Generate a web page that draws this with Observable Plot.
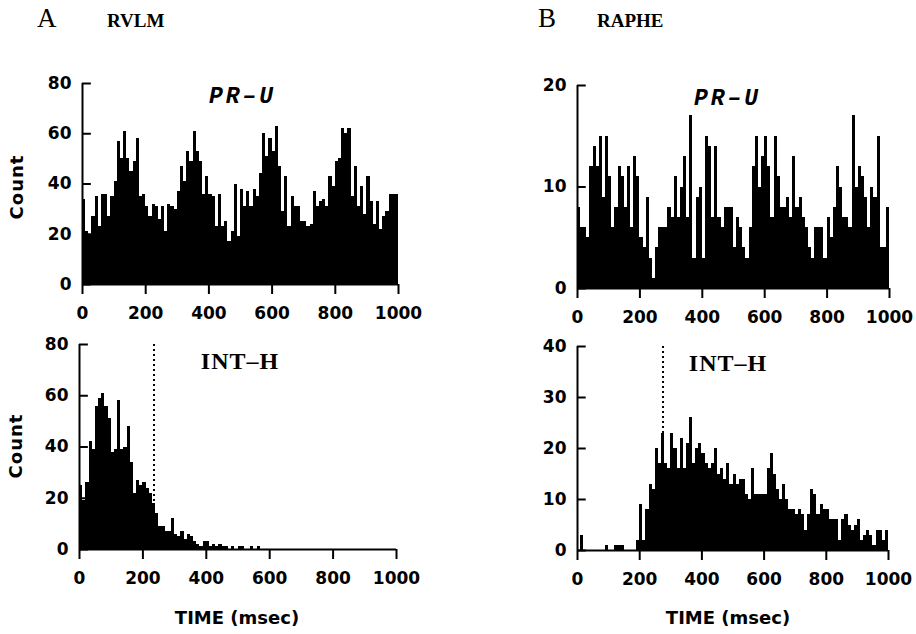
<!DOCTYPE html>
<html><head><meta charset="utf-8">
<script src="https://cdn.jsdelivr.net/npm/d3@7"></script>
<script src="https://cdn.jsdelivr.net/npm/@observablehq/plot@0.6"></script>
<style>
html,body{margin:0;padding:0;background:#fff;}
#root{position:relative;width:916px;height:634px;overflow:hidden;background:#fff;}
#root > svg, #root > figure{position:absolute;margin:0;}
</style></head><body><div id="root"></div>
<script>
// ---- data ----
const binWidth = 10; // msec per bin
const timeTicks = [0, 200, 400, 600, 800, 1000];

const rvlmPRU = [34,21,20,27,35,23,36,36,27,35, 41,57,50,61,50,45,49,58,35,36,
  31,27,32,31,26,31,21,32,31,30, 37,47,41,53,49,61,53,49,36,43,
  36,35,23,36,23,25,17,21,40,19, 38,31,37,31,38,35,44,60,51,58,
  53,63,47,29,43,23,35,31,31,25, 25,23,24,37,31,33,34,31,43,39,
  49,50,62,60,62,35,47,31,39,28, 43,33,24,33,22,27,29,36,36,36];

const rvlmINTH = [25,19,26,42,39,56,59,61,56,51, 38,39,58,39,40,48,34,22,27,25,
  26,24,22,18,14,9,9,7,7,12, 6,5,7,4,6,5,3,2,1,3,
  3,1,2,1,2,1,1,0,1,0, 1,1,0,0,1,0,1,0,0,0,
  0,0,0,0,0,0,0,0,0,0, 0,0,0,0,0,0,0,0,0,0,
  0,0,0,0,0,0,0,0,0,0, 0,0,0,0,0,0,0,0,0,0];

const raphePRU = [8,6,6,5,12,14,12,15,9,15, 11,6,8,12,11,8,12,6,13,11,
  5,4,9,3,1,4,6,6,6,8, 7,11,7,10,13,7,17,3,9,10,
  3,15,14,7,14,7,6,8,8,8, 4,7,6,4,3,6,12,15,10,13,
  15,12,7,15,11,8,8,9,7,13, 8,9,7,6,4,3,6,6,6,3,
  7,5,8,12,10,7,7,6,17,10, 12,11,9,6,10,9,15,4,4,8];

const rapheINTH = [0,3,0,0,0,0,0,0,0,1, 0,0,1,1,1,0,0,0,0,2,
  9,2,8,13,12,20,17,23,17,16, 23,20,16,22,16,21,26,17,20,21,
  19,17,16,17,20,15,16,14,17,13, 15,13,14,14,11,10,16,11,11,11,
  11,16,19,15,12,10,13,10,8,8, 7,8,7,4,7,12,11,7,9,8,
  8,6,6,6,2,6,7,5,4,5, 6,2,3,4,3,1,4,4,2,4];

const rvlmYTicks = [0, 20, 40, 60, 80];
const raphePRUYTicks = [0, 10, 20];
const rapheINTHYTicks = [0, 10, 20, 30, 40];
const rvlmOnset = 235;   // msec, dotted marker
const rapheOnset = 275;  // msec, dotted marker

// ---- drawing ----
const root = document.getElementById("root");
const tickFont = "'DejaVu Sans', sans-serif";
const innerTickLen = 28; // msec, length of the inward y ticks

function panel(cfg) {
  const {values, yTicks, title, titleFont, titleSize, titleStyle, titleSpacing, titleDx, titleDy,
         onset, left, top, width, height, frame} = cfg;
  const [fx0, fx1, fy0, fy1] = frame;
  const bins = values.map((v, i) => ({x1: i * binWidth, x2: (i + 1) * binWidth, y: v}));
  const marks = [];
  if (onset != null) marks.push(Plot.ruleX([onset], {stroke: "black", strokeWidth: 2, strokeDasharray: "2,3"}));
  marks.push(Plot.rectY(bins, {x1: "x1", x2: "x2", y: "y", fill: "black", shapeRendering: "crispEdges"}));
  marks.push(Plot.ruleX([0], {stroke: "black", strokeWidth: 2}));
  marks.push(Plot.ruleY([0], {stroke: "black", strokeWidth: 2}));
  marks.push(Plot.ruleY(yTicks, {y: d => d, x1: d => 0, x2: d => innerTickLen, stroke: "black", strokeWidth: 2}));
  marks.push(Plot.axisX({ticks: timeTicks, tickSize: 10, tickPadding: 12, strokeWidth: 2,
    tickFormat: d => String(d), label: null}));
  marks.push(Plot.axisY({ticks: yTicks, tickSize: 0, tickPadding: 11, tickFormat: d => String(d), label: null}));
  marks.push(Plot.text([title], {text: d => d, frameAnchor: "top", dx: titleDx, dy: titleDy,
    lineAnchor: "middle", fontFamily: titleFont, fontSize: titleSize, fontWeight: "bold",
    fontStyle: titleStyle, fill: "black"}));
  const svg = Plot.plot({
    width, height,
    marginLeft: fx0 - left, marginRight: left + width - fx1,
    marginTop: fy0 - top, marginBottom: top + height - fy1,
    x: {domain: [0, 1000]},
    y: {domain: [0, yTicks[yTicks.length - 1]]},
    style: {fontFamily: tickFont, fontSize: "17px", fontWeight: "bold", background: "transparent",
      overflow: "visible", color: "black"},
    marks
  });
  svg.style.left = left + "px";
  svg.style.top = top + "px";
  svg.querySelectorAll('g[aria-label="text"] text').forEach(t => {
    t.style.letterSpacing = titleSpacing + "px";
  });
  root.appendChild(svg);
}

const monoTitle = "'Liberation Mono', 'DejaVu Sans Mono', monospace";
const serifTitle = "'Liberation Serif', serif";
panel({values: rvlmPRU, yTicks: rvlmYTicks, title: "PR–U", titleFont: monoTitle, titleStyle: "italic",
  titleSize: 23, titleSpacing: 3, titleDx: 2, titleDy: 12, onset: null,
  left: 0, top: 50, width: 440, height: 275, frame: [82, 398, 83, 284]});
panel({values: raphePRU, yTicks: raphePRUYTicks, title: "PR–U", titleFont: monoTitle, titleStyle: "italic",
  titleSize: 23, titleSpacing: 3, titleDx: -6, titleDy: 12, onset: null,
  left: 470, top: 50, width: 446, height: 275, frame: [577, 889, 85, 288]});
panel({values: rvlmINTH, yTicks: rvlmYTicks, title: "INT–H", titleFont: serifTitle, titleStyle: "normal",
  titleSize: 24, titleSpacing: 1, titleDx: 2, titleDy: 17, onset: rvlmOnset,
  left: 0, top: 325, width: 440, height: 275, frame: [79, 396, 344, 549]});
panel({values: rapheINTH, yTicks: rapheINTHYTicks, title: "INT–H", titleFont: serifTitle, titleStyle: "normal",
  titleSize: 24, titleSpacing: 1, titleDx: -5, titleDy: 17, onset: rapheOnset,
  left: 470, top: 325, width: 446, height: 275, frame: [577, 888, 346, 550]});

// ---- text overlay ----
const ns = "http://www.w3.org/2000/svg";
const ov = document.createElementNS(ns, "svg");
ov.setAttribute("width", 916); ov.setAttribute("height", 634);
ov.style.left = "0px"; ov.style.top = "0px"; ov.style.pointerEvents = "none";
function txt(s, x, y, attrs) {
  const t = document.createElementNS(ns, "text");
  t.textContent = s;
  t.setAttribute("x", x); t.setAttribute("y", y);
  for (const k in attrs) t.setAttribute(k, attrs[k]);
  ov.appendChild(t);
  return t;
}
const serif = "'Liberation Serif', serif";
txt("A", 37, 27, {"font-family": serif, "font-size": 27});
txt("RVLM", 107, 27, {"font-family": serif, "font-size": 19, "font-weight": "bold"});
txt("B", 538, 27, {"font-family": serif, "font-size": 27});
txt("RAPHE", 597, 27, {"font-family": serif, "font-size": 19, "font-weight": "bold"});
const countAttrs = {"font-family": tickFont, "font-size": 18, "font-weight": "bold", "text-anchor": "middle",
  "dy": "0.35em", "letter-spacing": "1"};
txt("Count", 0, 0, Object.assign({transform: "translate(17,187) rotate(-90)"}, countAttrs));
txt("Count", 0, 0, Object.assign({transform: "translate(16,446) rotate(-90)"}, countAttrs));
const timeAttrs = {"font-family": tickFont, "font-size": 18, "font-weight": "bold", "text-anchor": "middle"};
txt("TIME (msec)", 237, 624, timeAttrs);
txt("TIME (msec)", 728, 624, timeAttrs);
root.appendChild(ov);
</script></body></html>
